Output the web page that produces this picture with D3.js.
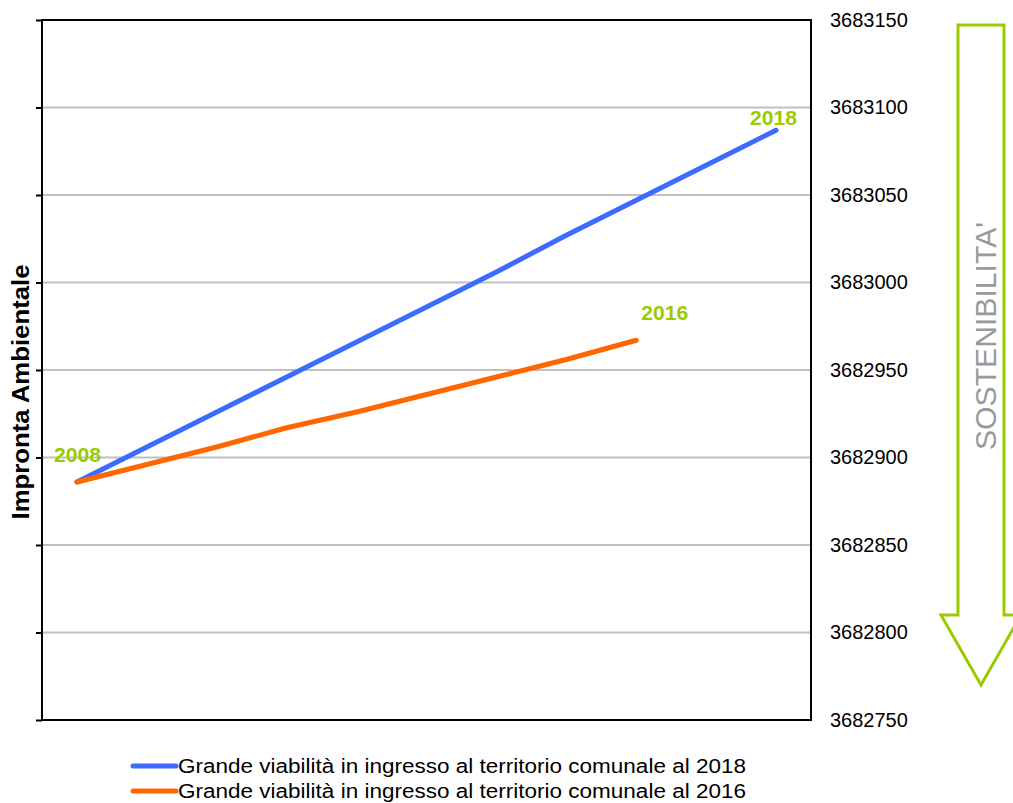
<!DOCTYPE html>
<html>
<head>
<meta charset="utf-8">
<script src="https://cdn.jsdelivr.net/npm/d3@7"></script>
<style>
  body { margin: 0; background: #fff; }
  text { font-family: "Liberation Sans", Arial, sans-serif; }
</style>
</head>
<body>
<svg id="chart" width="1013" height="803"></svg>
<script>
// data
var years = [2008, 2009, 2010, 2011, 2012, 2013, 2014, 2015, 2016, 2017, 2018];
var vals2018 = [3682886, 3682906, 3682926, 3682946, 3682966, 3682986, 3683006, 3683027, 3683047, 3683067, 3683087];
var vals2016 = [3682886, 3682896, 3682906, 3682917, 3682926, 3682936, 3682946, 3682956, 3682967];
var yTicks = [3682750, 3682800, 3682850, 3682900, 3682950, 3683000, 3683050, 3683100, 3683150];
var seriesNames = ["Grande viabilità in ingresso al territorio comunale al 2018",
                   "Grande viabilità in ingresso al territorio comunale al 2016"];
var seriesColors = ["#3d6bff", "#ff6600"];
var green = "#99cc00";

var svg = d3.select("#chart");
var plotL = 42, plotR = 811, plotT = 20, plotB = 720;

var x = d3.scalePoint().domain(years).range([plotL, plotR]).padding(0.5);
var y = d3.scaleLinear().domain([3682750, 3683150]).range([plotB, plotT]);

//gridlines
svg.append("g")
  .selectAll("line")
  .data(yTicks.slice(1, -1))
  .enter().append("line")
  .attr("x1", plotL).attr("x2", plotR)
  .attr("y1", d => y(d)).attr("y2", d => y(d))
  .style("stroke", "#c0c0c0")
  .style("stroke-width", 2);

//left axis (ticks only)
var yLeft = d3.axisLeft(y).tickValues(yTicks).tickSize(6).tickFormat("");
svg.append("g")
  .attr("transform", "translate(" + plotL + ",0)")
  .call(yLeft)
  .call(g => g.selectAll("line").style("stroke", "#000").style("stroke-width", 2))
  .call(g => g.select(".domain").remove());

//right axis labels
var yRight = d3.axisRight(y).tickValues(yTicks).tickSize(0).tickPadding(19).tickFormat(d3.format("d"));
svg.append("g")
  .attr("transform", "translate(" + plotR + ",0)")
  .call(yRight)
  .call(g => g.select(".domain").remove())
  .call(g => g.selectAll("text").style("font-size", "20px").attr("fill", "#000").style("font-family", "Liberation Sans, Arial, sans-serif"));

//plot frame
svg.append("rect")
  .attr("x", plotL).attr("y", plotT)
  .attr("width", plotR - plotL).attr("height", plotB - plotT)
  .style("fill", "none")
  .style("stroke", "#000")
  .style("stroke-width", 2);

//y title
svg.append("text")
  .attr("transform", "translate(29,392) rotate(-90)")
  .attr("text-anchor", "middle")
  .attr("textLength", 255)
  .attr("lengthAdjust", "spacingAndGlyphs")
  .style("font-size", "23px")
  .style("font-weight", "bold")
  .text("Impronta Ambientale");

//lines
var line = d3.line()
  .x((d, i) => x(years[i]))
  .y(d => y(d));

[vals2018, vals2016].forEach(function(vals, k) {
  svg.append("path")
    .datum(vals)
    .attr("d", line)
    .style("fill", "none")
    .style("stroke", seriesColors[k])
    .style("stroke-width", 5)
    .style("stroke-linecap", "round")
    .style("stroke-linejoin", "round");
});

//year labels
function yearLabel(text, xx, yy) {
  svg.append("text")
    .attr("x", xx).attr("y", yy)
    .attr("textLength", 47)
    .attr("lengthAdjust", "spacingAndGlyphs")
    .style("font-size", "20px")
    .style("font-weight", "bold")
    .style("fill", green)
    .text(text);
}
yearLabel(years[0], x(years[0]) - 23, y(vals2018[0]) - 20);
yearLabel(years[years.length - 1], x(years[years.length - 1]) - 26, y(vals2018[vals2018.length - 1]) - 5);
yearLabel(years[vals2016.length - 1], x(years[vals2016.length - 1]) + 5, y(vals2016[vals2016.length - 1]) - 20);

//legend
var legend = svg.append("g");
seriesNames.forEach(function(name, i) {
  var ly = 766 + i * 25;
  legend.append("line")
    .attr("x1", 133).attr("x2", 176)
    .attr("y1", ly).attr("y2", ly)
    .style("stroke", seriesColors[i])
    .style("stroke-width", 5)
    .style("stroke-linecap", "round");
  legend.append("text")
    .attr("x", 178).attr("y", ly + 7)
    .attr("textLength", 568)
    .attr("lengthAdjust", "spacingAndGlyphs")
    .style("font-size", "20px")
    .text(name);
});

//sustainability arrow
var ax = 981, shaftW = 46, headW = 80, shaftTop = 25, shaftBottom = 615, tipY = 685;
var arrowPts = [
  [ax - shaftW / 2, shaftTop], [ax + shaftW / 2, shaftTop], [ax + shaftW / 2, shaftBottom],
  [ax + headW / 2, shaftBottom], [ax, tipY], [ax - headW / 2, shaftBottom], [ax - shaftW / 2, shaftBottom]
];
svg.append("path")
  .attr("d", d3.line()(arrowPts) + "Z")
  .style("fill", "none")
  .style("stroke", green)
  .style("stroke-width", 3);

svg.append("text")
  .attr("transform", "translate(996,336) rotate(-90)")
  .attr("text-anchor", "middle")
  .attr("textLength", 228)
  .attr("lengthAdjust", "spacingAndGlyphs")
  .style("font-size", "29px")
  .style("fill", "#999")
  .text("SOSTENIBILITA'");
</script>
</body>
</html>
